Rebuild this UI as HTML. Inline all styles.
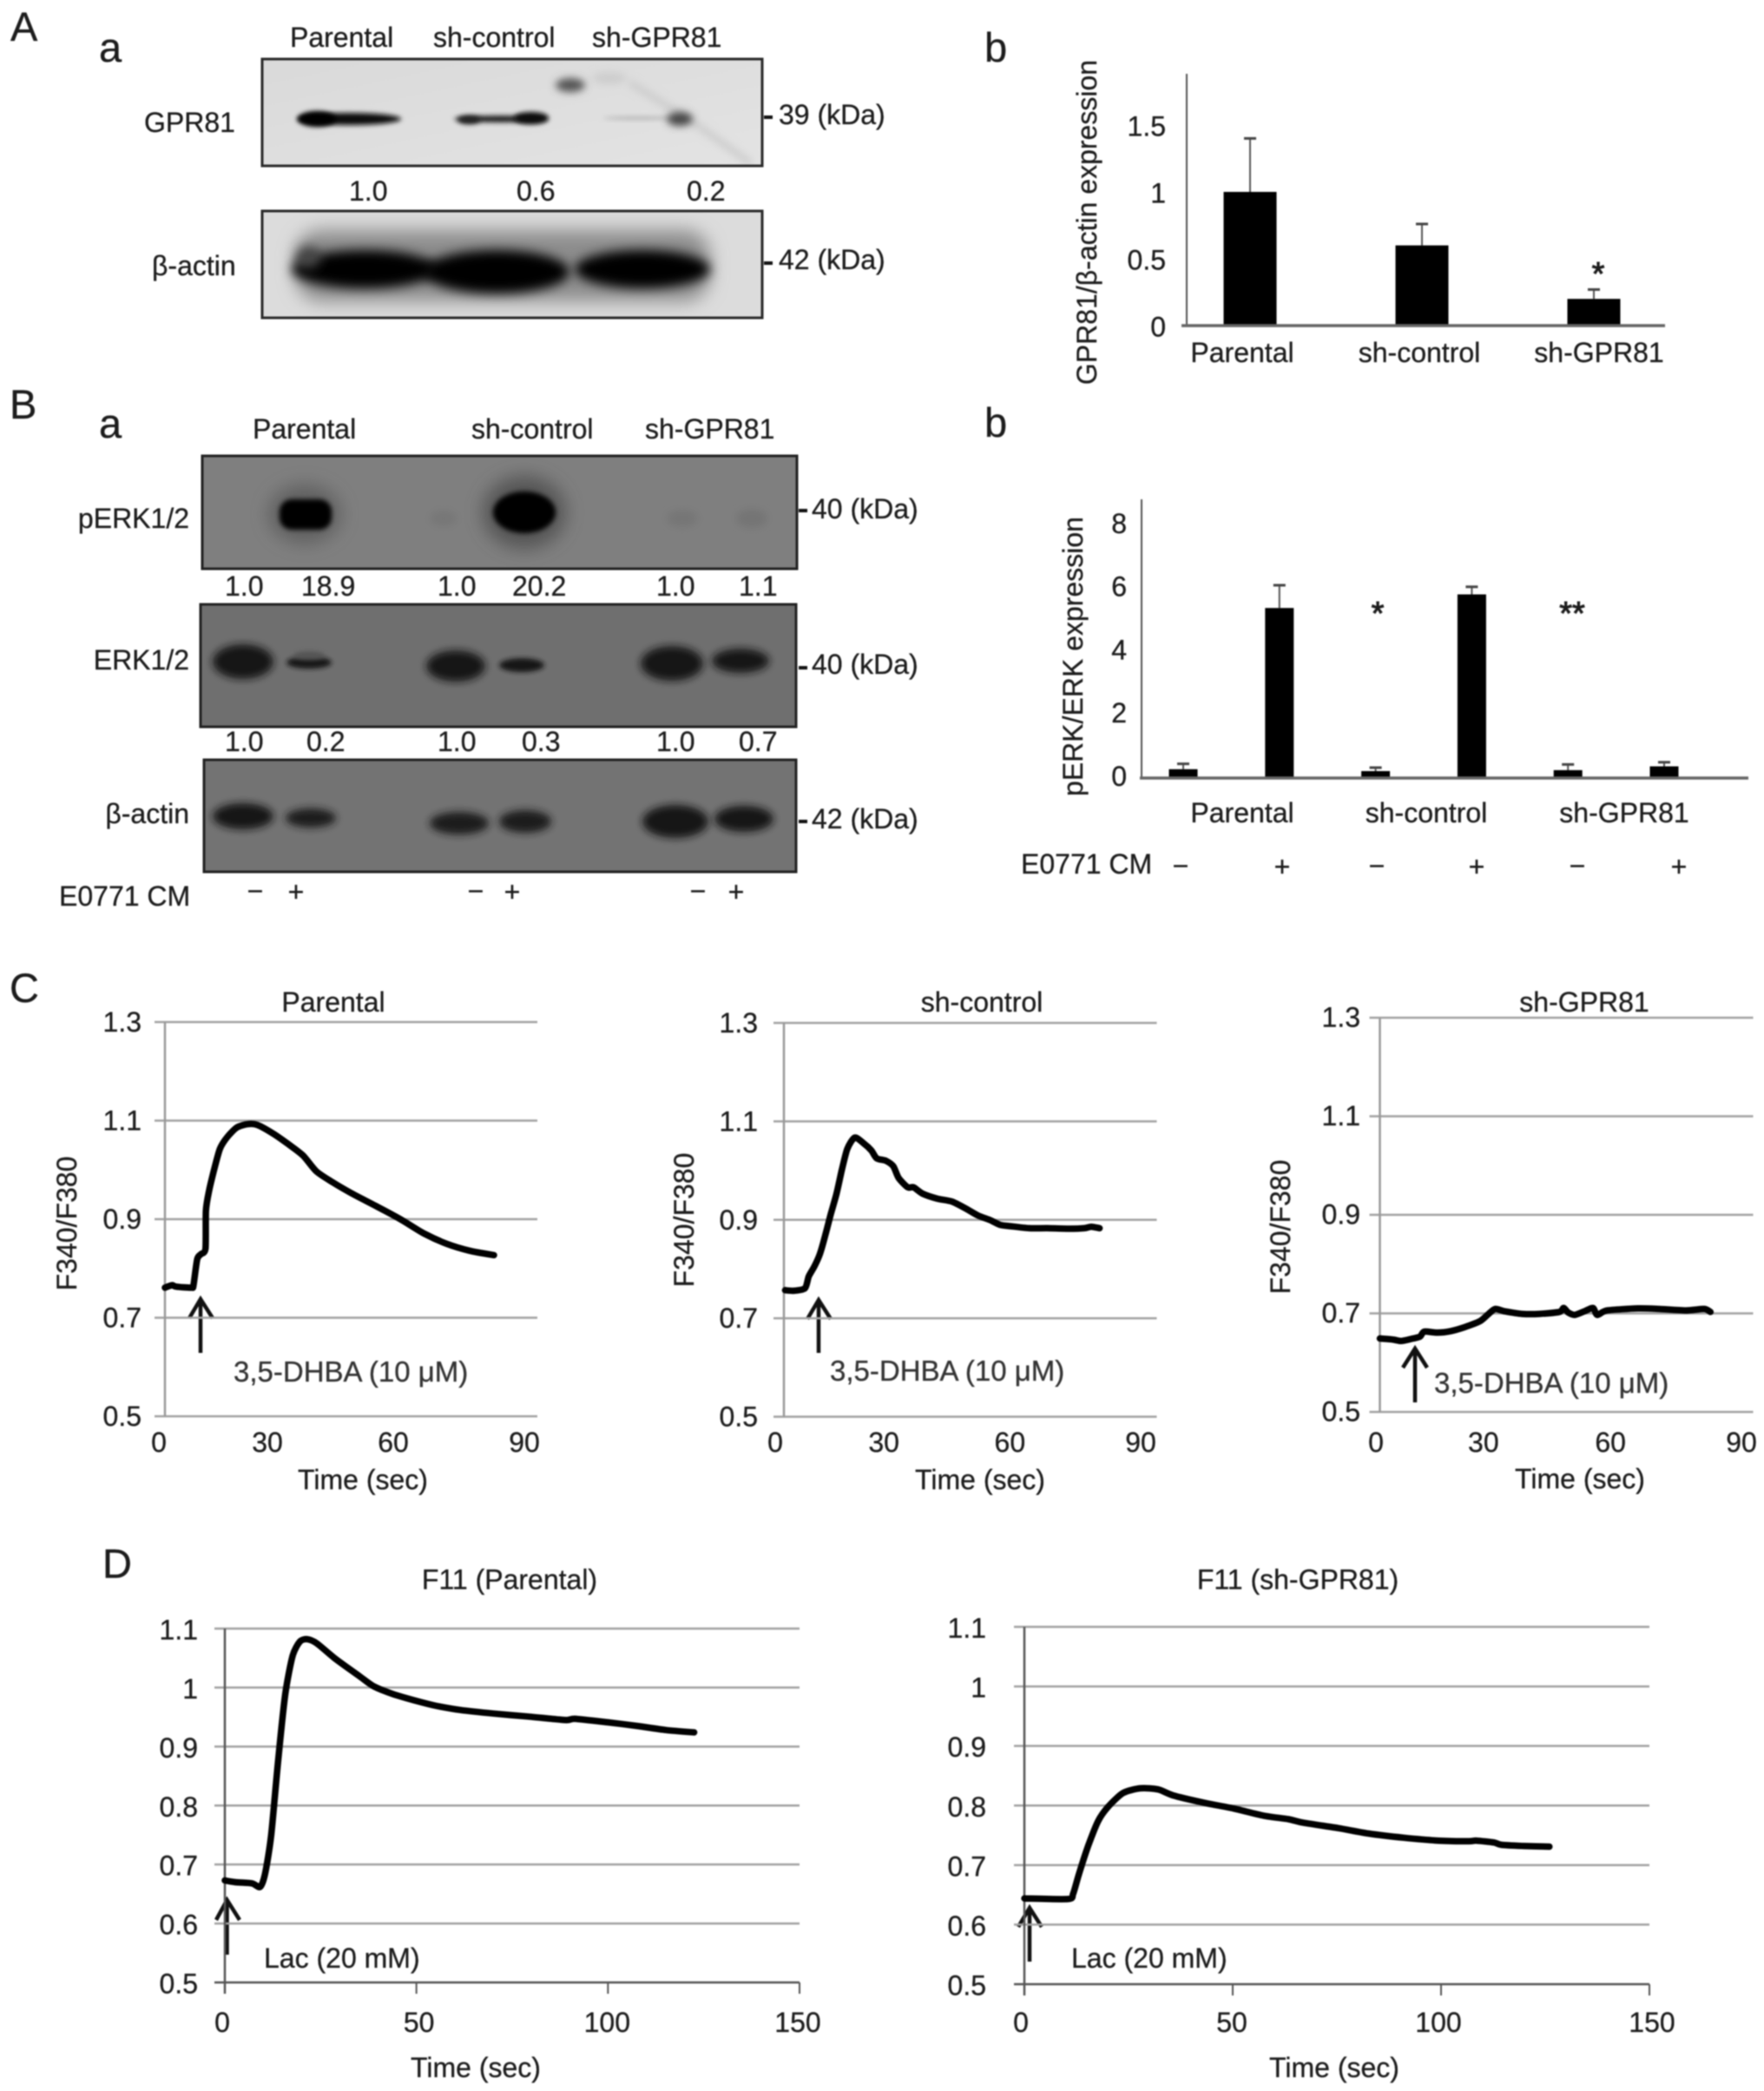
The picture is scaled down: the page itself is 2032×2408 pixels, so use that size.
<!DOCTYPE html>
<html lang="en">
<head>
<meta charset="utf-8">
<title>GPR81 expression and calcium response figure</title>
<style>
html,body{margin:0;padding:0;background:#fff;width:2032px;height:2408px;overflow:hidden}
svg{display:block;filter:blur(.75px)}
text{font-family:"Liberation Sans",sans-serif;font-size:32px;fill:#1c1c1c;stroke:#1c1c1c;stroke-width:.3px}
.pl{font-size:47px}
.m{text-anchor:middle}
.e{text-anchor:end}
.g{fill:#333;stroke:#333;font-size:33px}
.arrow{fill:none;stroke:#111;stroke-width:4.5;stroke-linecap:butt;stroke-linejoin:miter}
</style>
</head>
<body>
<svg id="fig" xmlns="http://www.w3.org/2000/svg" width="2032" height="2408" viewBox="0 0 2032 2408">
<defs>
<filter id="b2" x="-50%" y="-100%" width="200%" height="300%"><feGaussianBlur stdDeviation="2.6"/></filter>
<filter id="b4" x="-50%" y="-100%" width="200%" height="300%"><feGaussianBlur stdDeviation="4.5"/></filter>
<filter id="b6" x="-50%" y="-100%" width="200%" height="300%"><feGaussianBlur stdDeviation="6.5"/></filter>
<filter id="b8" x="-50%" y="-100%" width="200%" height="300%"><feGaussianBlur stdDeviation="10"/></filter>
<linearGradient id="a1bg" x1="0" y1="0" x2="1" y2="1"><stop offset="0" stop-color="#d9d9d9"/><stop offset="1" stop-color="#e3e3e3"/></linearGradient>
<clipPath id="c1"><rect x="302" y="68" width="576" height="123"/></clipPath>
<clipPath id="c2"><rect x="302" y="243" width="576" height="123"/></clipPath>
<clipPath id="c3"><rect x="233" y="525" width="685" height="130"/></clipPath>
<clipPath id="c4"><rect x="231" y="696" width="686" height="141"/></clipPath>
<clipPath id="c5"><rect x="235" y="875" width="682" height="129"/></clipPath>
</defs>
<rect width="2032" height="2408" fill="#fff"/>

<!-- Panel A a -->
<text class="pl" x="12" y="47">A</text>
<text class="pl" x="114" y="71">a</text>
<text x="334" y="54">Parental</text>
<text x="499" y="54">sh-control</text>
<text x="682" y="54">sh-GPR81</text>
<text x="166" y="152">GPR81</text>
<text x="175" y="317">β-actin</text>
<g>
  <rect x="302" y="68" width="576" height="123" fill="url(#a1bg)"/>
  <g clip-path="url(#c1)">
    <path d="M725 95 L790 135 L865 188" fill="none" stroke="#cbcbcb" stroke-width="7" filter="url(#b4)"/>
    <ellipse cx="702" cy="90" rx="20" ry="7" fill="#cdcdcd" filter="url(#b4)"/>
    <ellipse cx="657" cy="98" rx="17" ry="8" fill="#555" filter="url(#b4)"/>
    <ellipse cx="402" cy="137" rx="60" ry="7" fill="#111" filter="url(#b2)"/>
    <ellipse cx="365" cy="137" rx="22" ry="9" fill="#000" filter="url(#b2)"/>
    <ellipse cx="577" cy="137" rx="54" ry="4" fill="#222" filter="url(#b2)"/>
    <ellipse cx="612" cy="136" rx="20" ry="7" fill="#111" filter="url(#b2)"/>
    <ellipse cx="540" cy="138" rx="13" ry="5" fill="#222" filter="url(#b2)"/>
    <ellipse cx="735" cy="136" rx="40" ry="2" fill="#b6b6b6" filter="url(#b2)"/>
    <ellipse cx="783" cy="137" rx="15" ry="8" fill="#444" filter="url(#b4)"/>
  </g>
  <rect x="302" y="68" width="576" height="123" fill="none" stroke="#2a2a2a" stroke-width="3"/>
</g>
<text x="402" y="231">1.0</text>
<text x="595" y="231">0.6</text>
<text x="791" y="231">0.2</text>
<g>
  <rect x="302" y="243" width="576" height="123" fill="#dcdcdc"/>
  <g clip-path="url(#c2)">
    <rect x="340" y="265" width="478" height="82" rx="30" fill="#8c8c8c" filter="url(#b8)"/>
    <ellipse cx="420" cy="310" rx="84" ry="22" fill="#060606" filter="url(#b6)"/>
    <ellipse cx="572" cy="313" rx="84" ry="25" fill="#060606" filter="url(#b6)"/>
    <ellipse cx="740" cy="310" rx="78" ry="22" fill="#060606" filter="url(#b6)"/>
    <ellipse cx="355" cy="296" rx="14" ry="13" fill="#444" filter="url(#b6)"/>
  </g>
  <rect x="302" y="243" width="576" height="123" fill="none" stroke="#2a2a2a" stroke-width="3"/>
</g>
<rect x="880" y="133" width="10" height="4" fill="#111"/>
<text x="897" y="143">39 (kDa)</text>
<rect x="880" y="301" width="10" height="4" fill="#111"/>
<text x="897" y="310">42 (kDa)</text>

<text class="pl" x="1134" y="71">b</text>

<!-- Panel B a -->
<text class="pl" x="11" y="482">B</text>
<text class="pl" x="114" y="504">a</text>
<text x="291" y="505">Parental</text>
<text x="543" y="505">sh-control</text>
<text x="743" y="505">sh-GPR81</text>
<text class="e" x="218" y="608">pERK1/2</text>
<text class="e" x="218" y="771">ERK1/2</text>
<text class="e" x="218" y="948">β-actin</text>

<g>
  <rect x="233" y="525" width="685" height="130" fill="#7f7f7f"/>
  <g clip-path="url(#c3)">
    <ellipse cx="351" cy="592" rx="42" ry="34" fill="#606060" filter="url(#b8)"/>
    <ellipse cx="604" cy="590" rx="48" ry="42" fill="#555" filter="url(#b8)"/>
    <rect x="322" y="575" width="60" height="35" rx="14" fill="#000" filter="url(#b2)"/>
    <ellipse cx="604" cy="590" rx="36" ry="24" fill="#000" filter="url(#b2)"/>
    <ellipse cx="511" cy="597" rx="16" ry="9" fill="#777" filter="url(#b4)"/>
    <ellipse cx="786" cy="597" rx="18" ry="10" fill="#767676" filter="url(#b4)"/>
    <ellipse cx="866" cy="597" rx="18" ry="11" fill="#747474" filter="url(#b4)"/>
  </g>
  <rect x="233" y="525" width="685" height="130" fill="none" stroke="#222" stroke-width="3"/>
</g>
<g>
<text x="259" y="686">1.0</text>
<text x="347" y="686">18.9</text>
<text x="504" y="686">1.0</text>
<text x="590" y="686">20.2</text>
<text x="756" y="686">1.0</text>
<text x="851" y="686">1.1</text>
</g>
<g>
  <rect x="231" y="696" width="686" height="141" fill="#6f6f6f"/>
  <g clip-path="url(#c4)">
    <ellipse cx="280" cy="762" rx="35" ry="20" fill="#141414" filter="url(#b4)"/>
    <ellipse cx="356" cy="763" rx="26" ry="7" fill="#181818" filter="url(#b2)"/>
    <ellipse cx="356" cy="755" rx="18" ry="5" fill="#555" filter="url(#b2)"/>
    <ellipse cx="525" cy="767" rx="34" ry="18" fill="#141414" filter="url(#b4)"/>
    <ellipse cx="601" cy="766" rx="26" ry="8" fill="#181818" filter="url(#b2)"/>
    <ellipse cx="774" cy="764" rx="36" ry="20" fill="#121212" filter="url(#b4)"/>
    <ellipse cx="853" cy="761" rx="33" ry="14" fill="#141414" filter="url(#b4)"/>
  </g>
  <rect x="231" y="696" width="686" height="141" fill="none" stroke="#222" stroke-width="3"/>
</g>
<g>
<text x="259" y="865">1.0</text>
<text x="353" y="865">0.2</text>
<text x="504" y="865">1.0</text>
<text x="601" y="865">0.3</text>
<text x="756" y="865">1.0</text>
<text x="851" y="865">0.7</text>
</g>
<g>
  <rect x="235" y="875" width="682" height="129" fill="#737373"/>
  <g clip-path="url(#c5)">
    <ellipse cx="280" cy="940" rx="35" ry="15" fill="#161616" filter="url(#b4)"/>
    <ellipse cx="358" cy="942" rx="29" ry="11" fill="#1c1c1c" filter="url(#b4)"/>
    <ellipse cx="529" cy="948" rx="34" ry="13" fill="#1a1a1a" filter="url(#b4)"/>
    <ellipse cx="605" cy="946" rx="30" ry="13" fill="#1a1a1a" filter="url(#b4)"/>
    <ellipse cx="778" cy="946" rx="38" ry="19" fill="#141414" filter="url(#b4)"/>
    <ellipse cx="857" cy="943" rx="34" ry="15" fill="#161616" filter="url(#b4)"/>
  </g>
  <rect x="235" y="875" width="682" height="129" fill="none" stroke="#222" stroke-width="3"/>
</g>
<rect x="920" y="586" width="10" height="4" fill="#111"/>
<text x="935" y="597">40 (kDa)</text>
<rect x="920" y="767" width="10" height="4" fill="#111"/>
<text x="935" y="776">40 (kDa)</text>
<rect x="920" y="944" width="10" height="4" fill="#111"/>
<text x="935" y="954">42 (kDa)</text>
<text x="68" y="1043">E0771 CM</text>
<g>
<text class="m" x="294" y="1037">−</text>
<text class="m" x="341" y="1038">+</text>
<text class="m" x="548" y="1037">−</text>
<text class="m" x="590" y="1038">+</text>
<text class="m" x="804" y="1037">−</text>
<text class="m" x="848" y="1038">+</text>
</g>

<text class="pl" x="1134" y="503">b</text>
<text x="1176" y="1006">E0771 CM</text>
<g>
<text class="m" x="1360" y="1008">−</text>
<text class="m" x="1477" y="1009">+</text>
<text class="m" x="1586" y="1008">−</text>
<text class="m" x="1701" y="1009">+</text>
<text class="m" x="1817" y="1008">−</text>
<text class="m" x="1934" y="1009">+</text>
</g>

<!-- Panel letters C / D -->
<text class="pl" x="11" y="1154">C</text>
<text class="pl" x="118" y="1817">D</text>

<!-- Agonist annotations -->
<path class="arrow" d="M231 1558V1496M218 1518L231 1496L245 1518"/>
<text class="g" x="269" y="1591">3,5-DHBA (10 μM)</text>
<path class="arrow" d="M943 1558V1497M930 1519L943 1497L957 1519"/>
<text class="g" x="956" y="1590">3,5-DHBA (10 μM)</text>
<path class="arrow" d="M1630 1615V1553M1616 1575L1630 1553L1644 1575"/>
<text class="g" x="1652" y="1604">3,5-DHBA (10 μM)</text>
<path class="arrow" d="M261.5 2251V2188M249 2211L261.5 2188L276 2211"/>
<text x="304" y="2266">Lac (20 mM)</text>
<path class="arrow" d="M1186 2259V2197M1173 2219L1186 2197L1200 2219"/>
<text x="1234" y="2266">Lac (20 mM)</text>
</svg>

<script>
// ---------- Bar chart data ----------
var gprCategories = ['Parental', 'sh-control', 'sh-GPR81'];
var gprValues = [1.0, 0.6, 0.2];
var gprErrors = [0.4, 0.16, 0.07];
var gprTicks = [0, 0.5, 1, 1.5];
var gprTickLabels = ['0', '0.5', '1', '1.5'];

var erkCategories = ['Parental', 'sh-control', 'sh-GPR81'];
var erkValues = [0.28, 5.38, 0.22, 5.81, 0.25, 0.37];
var erkErrors = [0.17, 0.72, 0.11, 0.24, 0.18, 0.13];
var erkTicks = [0, 2, 4, 6, 8];
var erkTickLabels = ['0', '2', '4', '6', '8'];

// ---------- Time course data ----------
var cTicksY = [0.5, 0.7, 0.9, 1.1, 1.3];
var cTickLabelsY = ['0.5', '0.7', '0.9', '1.1', '1.3'];
var cTicksX = [0, 30, 60, 90];
var dTicksY = [0.5, 0.6, 0.7, 0.8, 0.9, 1, 1.1];
var dTickLabelsY = ['0.5', '0.6', '0.7', '0.8', '0.9', '1', '1.1'];
var dTicksX = [0, 50, 100, 150];

var cParentalTime = [0, 0.9, 1.8, 2.7, 6.4, 6.9, 7.8, 8.7, 9.8, 9.9, 10.7, 11.9, 13.3, 15.1, 17.4, 20.1, 22.4, 26.1, 29.7, 33.4, 36.6, 40.7, 45.2, 51.6, 57.1, 62.6, 68.1, 73.6, 79.5];
var cParentalRatio = [0.761, 0.764, 0.766, 0.763, 0.761, 0.766, 0.819, 0.829, 0.84, 0.917, 0.959, 1.001, 1.043, 1.067, 1.086, 1.093, 1.091, 1.074, 1.053, 1.029, 0.997, 0.974, 0.952, 0.924, 0.899, 0.871, 0.85, 0.836, 0.827];

var cControlTime = [0.3, 2.5, 5.1, 6, 7.4, 8.7, 10, 11.3, 12.7, 14, 15.3, 17.1, 19.3, 21.1, 22.4, 24.6, 26.4, 27.7, 29.9, 31.3, 33.5, 37, 40.6, 44.1, 46.8, 49.9, 52.1, 54.7, 59.2, 63.6, 68.9, 72.5, 74.2, 76.2];
var cControlRatio = [0.757, 0.756, 0.761, 0.785, 0.806, 0.831, 0.869, 0.911, 0.953, 1.002, 1.044, 1.067, 1.055, 1.041, 1.025, 1.02, 1.009, 0.985, 0.966, 0.966, 0.953, 0.943, 0.937, 0.922, 0.909, 0.899, 0.89, 0.887, 0.883, 0.883, 0.882, 0.883, 0.886, 0.883];

var cKnockdownTime = [0, 3.1, 5.2, 8, 9.7, 10.7, 13.8, 17.1, 20.4, 24.1, 26.1, 27.8, 30.2, 34.3, 38.4, 43.3, 44.3, 45.4, 47, 49.5, 51.4, 52.4, 54.8, 62.2, 67.2, 73.7, 78.2, 79.7];
var cKnockdownRatio = [0.649, 0.647, 0.644, 0.649, 0.653, 0.663, 0.661, 0.664, 0.672, 0.684, 0.698, 0.709, 0.704, 0.699, 0.699, 0.703, 0.711, 0.702, 0.697, 0.705, 0.711, 0.697, 0.706, 0.71, 0.709, 0.706, 0.709, 0.703];

var dParentalTime = [0, 2.7, 7.1, 9.2, 10.5, 12.1, 14, 15.8, 17.7, 19.6, 21.5, 24, 29, 35.2, 38.9, 43.9, 50.2, 55.2, 61.4, 70.1, 78.9, 88.9, 91.4, 100.1, 107.6, 115.1, 122.5];
var dParentalRatio = [0.673, 0.67, 0.668, 0.662, 0.684, 0.75, 0.882, 0.99, 1.054, 1.078, 1.082, 1.075, 1.048, 1.019, 1.002, 0.989, 0.977, 0.969, 0.962, 0.956, 0.951, 0.945, 0.947, 0.941, 0.935, 0.928, 0.924];

var dKnockdownTime = [0, 10.5, 11.7, 13.1, 15.3, 17.7, 20.1, 23.7, 27.9, 32.1, 35.7, 42.9, 50.2, 57.4, 63.4, 67, 75.4, 82.6, 91, 99.5, 106.7, 108.5, 112.7, 114.5, 119.9, 126];
var dKnockdownRatio = [0.644, 0.643, 0.652, 0.685, 0.732, 0.774, 0.798, 0.821, 0.829, 0.827, 0.817, 0.805, 0.795, 0.783, 0.777, 0.771, 0.762, 0.753, 0.746, 0.741, 0.74, 0.741, 0.738, 0.734, 0.732, 0.731];

// ---------- Rendering ----------
var svg = document.getElementById('fig');
var NS = 'http://www.w3.org/2000/svg';

function make(parent, tag, name, props, content) {
  var el = document.createElementNS(NS, tag);
  
  
  for (var k in props) { el.setAttribute(k, props[k]); }
  if (content !== undefined) { el.textContent = content; }
  parent.appendChild(el);
  return el;
}

function smoothPath(p) {
  var d = 'M' + p[0][0].toFixed(1) + ' ' + p[0][1].toFixed(1);
  for (var i = 0; i < p.length - 1; i++) {
    var a = p[Math.max(i - 1, 0)], b = p[i], c = p[i + 1], e = p[Math.min(i + 2, p.length - 1)];
    var c1x = b[0] + (c[0] - a[0]) / 8, c1y = b[1] + (c[1] - a[1]) / 8;
    var c2x = c[0] - (e[0] - b[0]) / 8, c2y = c[1] - (e[1] - b[1]) / 8;
    d += 'C' + c1x.toFixed(1) + ' ' + c1y.toFixed(1) + ' ' + c2x.toFixed(1) + ' ' + c2y.toFixed(1) + ' ' + c[0].toFixed(1) + ' ' + c[1].toFixed(1);
  }
  return d;
}

function barChart(cfg) {
  var g = make(svg, 'g', cfg.name, {});
  function y(v) { return cfg.y0 - cfg.unit * v; }
  function x(i) { return cfg.bar0 + cfg.barStep * i; }
  cfg.ticks.forEach(function (t, i) {
    make(g, 'text', 'y-tick-label-' + cfg.tickLabels[i], {x: cfg.tickRight, y: y(t) + cfg.tickDrop, 'text-anchor': 'end'}, cfg.tickLabels[i]);
  });
  cfg.values.forEach(function (v, i) {
    var cx = x(i);
    make(g, 'line', 'error-stem-' + i, {x1: cx, x2: cx, y1: y(v), y2: y(v + cfg.errors[i]), stroke: '#555', 'stroke-width': 2});
    make(g, 'line', 'error-cap-' + i, {x1: cx - 7, x2: cx + 7, y1: y(v + cfg.errors[i]), y2: y(v + cfg.errors[i]), stroke: '#444', 'stroke-width': 3});
    make(g, 'rect', 'bar-' + i, {x: cx - cfg.barW / 2, y: y(v), width: cfg.barW, height: cfg.y0 - y(v), fill: '#000'});
  });
  make(g, 'line', 'y-axis', {x1: cfg.axisX, x2: cfg.axisX, y1: cfg.axisTop, y2: cfg.y0, stroke: '#555', 'stroke-width': 2});
  make(g, 'line', 'x-axis', {x1: cfg.axisX - cfg.overhang, x2: cfg.axisEnd, y1: cfg.y0, y2: cfg.y0, stroke: '#666', 'stroke-width': 3.5});
  cfg.cats.forEach(function (c, i) {
    make(g, 'text', 'category-label-' + c, {x: cfg.catX(i), y: cfg.catY, 'text-anchor': 'middle'}, c);
  });
  cfg.stars.forEach(function (s, i) {
    var st = make(g, 'text', 'significance-marker-' + i, {x: s[0], y: s[1], 'text-anchor': 'middle'}, s[2]);
    st.style.fontSize = '38px';
    st.style.strokeWidth = '1px';
  });
  make(g, 'text', 'y-axis-title', {x: 0, y: 0, 'text-anchor': 'middle', transform: 'translate(' + cfg.titleX + ' ' + cfg.titleY + ') rotate(-90)'}, cfg.title);
}

barChart({
  name: 'gpr81-expression-chart', y0: 375, unit: 154, bar0: 1440, barStep: 198, barW: 61,
  values: gprValues, errors: gprErrors, ticks: gprTicks, tickLabels: gprTickLabels, cats: gprCategories,
  tickRight: 1343, tickDrop: 12.5, axisX: 1367, axisTop: 85, axisEnd: 1918, overhang: 6, catY: 417,
  catX: function (i) { return [1431, 1635, 1842][i]; },
  stars: [[1841, 328, '*']],
  title: 'GPR81/β-actin expression', titleX: 1263, titleY: 256
});
barChart({
  name: 'perk-erk-expression-chart', y0: 896, unit: 36.4, bar0: 1363, barStep: 110.8, barW: 33,
  values: erkValues, errors: erkErrors, ticks: erkTicks, tickLabels: erkTickLabels, cats: erkCategories,
  tickRight: 1298, tickDrop: 9, axisX: 1315, axisTop: 575, axisEnd: 2014, overhang: 2, catY: 947,
  catX: function (i) { return [1431, 1643, 1871][i]; },
  stars: [[1587, 719, '*'], [1811, 719, '**']],
  title: 'pERK/ERK expression', titleX: 1247, titleY: 756
});

function linePanel(cfg) {
  var g = make(svg, 'g', cfg.name, {});
  function x(t) { return cfg.x0 + (cfg.x1 - cfg.x0) * t / cfg.xMax; }
  function y(v) { return cfg.yBot - (cfg.yBot - cfg.yTop) * (v - cfg.yMin) / (cfg.yMax - cfg.yMin); }
  cfg.ticksY.forEach(function (t, i) {
    make(g, 'line', 'gridline-' + cfg.labelsY[i], {x1: cfg.x0 - 12, x2: cfg.x1, y1: y(t), y2: y(t), stroke: (i === 0 && cfg.dark) ? '#555' : '#a2a2a2', 'stroke-width': 2.5});
    make(g, 'text', 'y-tick-label-' + cfg.labelsY[i], {x: cfg.labelRight, y: y(t) + cfg.tickDrop, 'text-anchor': 'end'}, cfg.labelsY[i]);
  });
  make(g, 'line', 'y-axis', {x1: cfg.x0, x2: cfg.x0, y1: y(cfg.yMax), y2: y(cfg.yMin) + (cfg.dark ? 13 : 0), stroke: cfg.dark ? '#555' : '#999', 'stroke-width': 2.5});
  cfg.ticksX.forEach(function (t, i) {
    if (cfg.dark) {
      make(g, 'line', 'x-tick-' + t, {x1: x(t), x2: x(t), y1: y(cfg.yMin), y2: y(cfg.yMin) + 13, stroke: '#555', 'stroke-width': 2});
    }
    make(g, 'text', 'x-tick-label-' + t, {x: x(t) + cfg.xNudge[i], y: cfg.xLabelY, 'text-anchor': 'middle'}, String(t));
  });
  var pts = cfg.time.map(function (t, i) { return [x(t), y(cfg.ratio[i])]; });
  make(g, 'path', 'ratio-trace', {d: smoothPath(pts), fill: 'none', stroke: '#000', 'stroke-width': 7.5, 'stroke-linejoin': 'round', 'stroke-linecap': 'round'});
  make(g, 'text', 'chart-title', {x: cfg.titleCx, y: cfg.titleY, 'text-anchor': 'middle'}, cfg.title);
  make(g, 'text', 'x-axis-title', {x: cfg.xTitleCx, y: cfg.xTitleY, 'text-anchor': 'middle'}, 'Time (sec)');
  if (cfg.yTitleX) {
    make(g, 'text', 'y-axis-title', {x: 0, y: 0, 'text-anchor': 'middle', transform: 'translate(' + cfg.yTitleX + ' ' + cfg.yTitleY + ') rotate(-90)'}, 'F340/F380');
  }
}

linePanel({name: 'calcium-chart-parental', x0: 190, x1: 619, xMax: 90, yTop: 1177, yBot: 1631, yMin: 0.5, yMax: 1.3,
  ticksY: cTicksY, labelsY: cTickLabelsY, ticksX: cTicksX, xNudge: [-7, -25, -23, -15], labelRight: 163, tickDrop: 11, xLabelY: 1672,
  time: cParentalTime, ratio: cParentalRatio, title: 'Parental', titleCx: 384, titleY: 1165, xTitleCx: 418, xTitleY: 1715, yTitleX: 88, yTitleY: 1409});
linePanel({name: 'calcium-chart-sh-control', x0: 903, x1: 1332.5, xMax: 90, yTop: 1178, yBot: 1631.5, yMin: 0.5, yMax: 1.3,
  ticksY: cTicksY, labelsY: cTickLabelsY, ticksX: cTicksX, xNudge: [-10, -28, -26, -18.5], labelRight: 873, tickDrop: 11, xLabelY: 1672,
  time: cControlTime, ratio: cControlRatio, title: 'sh-control', titleCx: 1131, titleY: 1165, xTitleCx: 1129, xTitleY: 1715, yTitleX: 799, yTitleY: 1405});
linePanel({name: 'calcium-chart-sh-gpr81', x0: 1589.5, x1: 2019.5, xMax: 90, yTop: 1172, yBot: 1626, yMin: 0.5, yMax: 1.3,
  ticksY: cTicksY, labelsY: cTickLabelsY, ticksX: cTicksX, xNudge: [-4.5, -24, -21, -13.5], labelRight: 1567, tickDrop: 10.5, xLabelY: 1672,
  time: cKnockdownTime, ratio: cKnockdownRatio, title: 'sh-GPR81', titleCx: 1825, titleY: 1165, xTitleCx: 1820, xTitleY: 1714, yTitleX: 1486, yTitleY: 1413});
linePanel({name: 'lactate-chart-parental', dark: true, x0: 259, x1: 921, xMax: 150, yTop: 1875.5, yBot: 2283, yMin: 0.5, yMax: 1.1,
  ticksY: dTicksY, labelsY: dTickLabelsY, ticksX: dTicksX, xNudge: [-3, 3, -1, -2], labelRight: 228, tickDrop: 12.5, xLabelY: 2340,
  time: dParentalTime, ratio: dParentalRatio, title: 'F11 (Parental)', titleCx: 587, titleY: 1830, xTitleCx: 548, xTitleY: 2392});
linePanel({name: 'lactate-chart-sh-gpr81', dark: true, x0: 1180, x1: 1900, xMax: 150, yTop: 1873.5, yBot: 2285, yMin: 0.5, yMax: 1.1,
  ticksY: dTicksY, labelsY: dTickLabelsY, ticksX: dTicksX, xNudge: [-4, -1, -3, 3], labelRight: 1136, tickDrop: 12.5, xLabelY: 2340,
  time: dKnockdownTime, ratio: dKnockdownRatio, title: 'F11 (sh-GPR81)', titleCx: 1495, titleY: 1830, xTitleCx: 1537, xTitleY: 2392});
</script>
</body>
</html>
